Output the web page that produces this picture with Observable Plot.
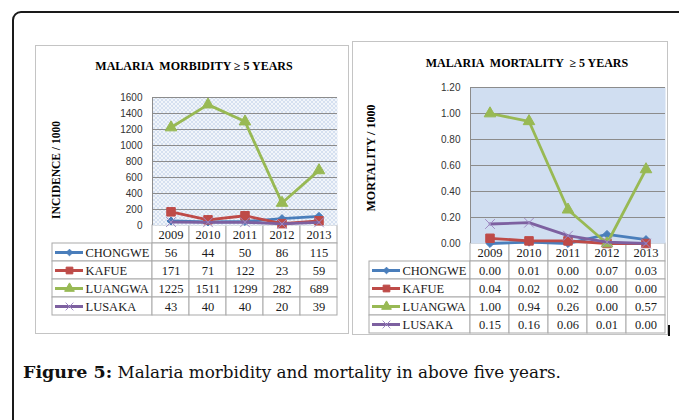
<!DOCTYPE html>
<html><head><meta charset="utf-8">
<script src="https://cdn.jsdelivr.net/npm/d3@7"></script>
<script src="https://cdn.jsdelivr.net/npm/@observablehq/plot@0.6"></script>
<style>
html,body{margin:0;padding:0;background:#fff;width:679px;height:420px;overflow:hidden;position:relative;}
.abs{position:absolute;}
.frame{left:12px;top:11px;width:720px;height:460px;border:2px solid #1a1a1a;border-radius:9px;}
.box{box-sizing:border-box;border:1.5px solid #c4c4c4;background:#fff;}
.title{font-family:"Liberation Serif",serif;font-weight:bold;font-size:12px;white-space:pre;transform:translateX(-50%);color:#000;line-height:1;}
.ylab{font-family:"Liberation Serif",serif;font-weight:bold;font-size:11.5px;white-space:pre;transform:translate(-50%,-50%) rotate(-90deg);line-height:1;color:#000;}
.caption{font-family:"DejaVu Serif",serif;font-size:16.8px;left:23px;top:362px;white-space:pre;color:#111;line-height:1.2;}
.caption b{font-weight:bold;font-size:17.5px;}
svg{position:absolute;}
</style></head><body>
<div class="abs frame"></div>
<script>
// ---- data ----
const years = ["2009", "2010", "2011", "2012", "2013"];
const series = ["CHONGWE", "KAFUE", "LUANGWA", "LUSAKA"];
const seriesColors = ["#4a7ebb", "#be4b48", "#98b954", "#7d60a0"];
const seriesSymbols = ["diamond2", "square", "triangle", "times"];

const morbidityChongwe = [56, 44, 50, 86, 115];
const morbidityKafue = [171, 71, 122, 23, 59];
const morbidityLuangwa = [1225, 1511, 1299, 282, 689];
const morbidityLusaka = [43, 40, 40, 20, 39];

const mortalityChongwe = [0.00, 0.01, 0.00, 0.07, 0.03];
const mortalityKafue = [0.04, 0.02, 0.02, 0.00, 0.00];
const mortalityLuangwa = [1.00, 0.94, 0.26, 0.00, 0.57];
const mortalityLusaka = [0.15, 0.16, 0.06, 0.01, 0.00];

const morbidityTicks = [0, 200, 400, 600, 800, 1000, 1200, 1400, 1600];
const mortalityTicks = [0, 0.2, 0.4, 0.6, 0.8, 1.0, 1.2];

const morbidityTitle = "MALARIA  MORBIDITY ≥ 5 YEARS";
const mortalityTitle = "MALARIA  MORTALITY  ≥ 5 YEARS";
const morbidityLabel = "INCIDENCE / 1000";
const mortalityLabel = "MORTALITY / 1000";

// ---- styles ----
const markerR = [3.6, 4.8, 4.3, 4.5];
const swatchR = [3, 3.8, 3.6, 3.6];
const gridColor = "#8c8c8c";
const tableColor = "#a9a9a9";

function addPattern(svg, id, size, bg, dots, dotColor) {
  const defs = d3.select(svg).insert("defs", ":first-child");
  const p = defs.append("pattern").attr("id", id).attr("width", size).attr("height", size)
    .attr("patternUnits", "userSpaceOnUse");
  p.append("rect").attr("width", size).attr("height", size).attr("fill", bg);
  dots.forEach(([x, y]) => p.append("rect").attr("x", x).attr("y", y).attr("width", 1).attr("height", 1).attr("fill", dotColor));
}

function panel(cfg) {
  const [bx0, by0, bx1, by1] = cfg.box;
  const box = document.createElement("div");
  box.className = "abs box";
  Object.assign(box.style, {left: bx0 + "px", top: by0 + "px", width: (bx1 - bx0) + "px", height: (by1 - by0) + "px"});
  document.body.appendChild(box);

  const boxW = bx1 - bx0;
  const step = (cfg.plotRight - cfg.plotLeft) / years.length;
  const L = (cfg.plotLeft - cfg.tableLeft) / step;
  const colorScale = {domain: series, range: seriesColors};

  // ---- table ----
  const nRows = series.length + 1;
  const cells = [];
  cfg.values.forEach((vals, r) => vals.forEach((v, i) => cells.push({r, i, v})));
  const table = Plot.plot({
    width: boxW, height: nRows * cfg.rowH + 3,
    marginLeft: cfg.tableLeft - bx0, marginRight: bx1 - cfg.plotRight, marginTop: 1, marginBottom: 2,
    x: {type: "linear", domain: [-L, years.length], axis: null},
    y: {type: "linear", domain: [0, nRows], range: [1, 1 + nRows * cfg.rowH], axis: null},
    color: colorScale,
    style: {background: "transparent", overflow: "visible", fontFamily: "Liberation Serif", fontSize: "12px", color: "#1a1a1a"},
    marks: [
      Plot.rect(years, {x1: (d, i) => i, x2: (d, i) => i + 1, y1: 0, y2: 1, stroke: tableColor, fill: "white"}),
      Plot.rect(series, {x1: -L, x2: 0, y1: (d, r) => r + 1, y2: (d, r) => r + 2, stroke: tableColor, fill: "white"}),
      Plot.rect(cells, {x1: d => d.i, x2: d => d.i + 1, y1: d => d.r + 1, y2: d => d.r + 2, stroke: tableColor, fill: "white"}),
      Plot.text(years, {x: (d, i) => i + 0.5, y: 0.5, text: d => d, fontSize: 12.5, fill: "#1a1a1a"}),
      Plot.text(cells, {x: d => d.i + 0.5, y: d => d.r + 1.5, text: d => cfg.fmt(d.v), fontSize: 12.5, fill: "#1a1a1a"}),
      Plot.ruleY(series, {y: (d, r) => r + 1.5, x1: -L + 3 / step, x2: -L + 31 / step, stroke: d => d, strokeWidth: 3}),
      Plot.dot(series, {x: -L + 17 / step, y: (d, r) => r + 1.5, symbol: d => d, r: (d, r) => swatchR[r],
        fill: (d, r) => r === 3 ? "none" : seriesColors[r], stroke: (d, r) => r === 3 ? "#a08bc4" : seriesColors[r], strokeWidth: 1}),
      Plot.text(series, {x: -L + 33 / step, y: (d, r) => r + 1.5, text: d => d, textAnchor: "start", fontSize: 12.5, fill: "#1a1a1a"})
    ],
    symbol: {domain: series, range: seriesSymbols},
    r: {type: "identity"}
  });
  table.style.position = "absolute";
  table.style.left = bx0 + "px";
  table.style.top = (cfg.plotBottom - 1) + "px";
  document.body.appendChild(table);

  // ---- chart ----
  const ticks = cfg.ticks;
  const svgTop = cfg.plotTop - 12, svgBottom = cfg.plotBottom + 10;
  const seriesMarks = cfg.values.flatMap((vals, k) => {
    const rows = vals.map((v, i) => ({x: i + 0.5, v}));
    return [
      Plot.line(rows, {x: "x", y: "v", stroke: seriesColors[k], strokeWidth: 2.8, strokeLinejoin: "round", strokeLinecap: "round"}),
      Plot.dot(rows, {x: "x", y: "v", symbol: seriesSymbols[k], r: markerR[k],
        fill: k === 3 ? "none" : seriesColors[k], stroke: k === 3 ? "#a08bc4" : seriesColors[k], strokeWidth: 1})
    ];
  });
  const chart = Plot.plot({
    width: boxW, height: svgBottom - svgTop,
    marginLeft: cfg.plotLeft - bx0, marginRight: bx1 - cfg.plotRight,
    marginTop: cfg.plotTop - svgTop, marginBottom: svgBottom - cfg.plotBottom,
    x: {type: "linear", domain: [0, years.length], axis: null},
    y: {domain: [ticks[0], ticks[ticks.length - 1]], axis: null},
    style: {background: "transparent", overflow: "visible", fontFamily: "Liberation Sans", fontSize: "10px", color: "#333"},
    marks: [
      Plot.frame({fill: `url(#${cfg.patternId})`, stroke: "none"}),
      Plot.ruleY(ticks.slice(1), {stroke: gridColor, strokeWidth: 1}),
      Plot.ruleX([0], {stroke: gridColor, strokeWidth: 1}),
      Plot.axisY(ticks, {tickSize: 0, tickPadding: 10, tickFormat: cfg.fmt, label: null, fontSize: 10}),
      ...seriesMarks
    ]
  });
  addPattern(chart, cfg.patternId, cfg.pattern.size, cfg.pattern.bg, cfg.pattern.dots, cfg.pattern.dot);
  chart.style.position = "absolute";
  chart.style.left = bx0 + "px";
  chart.style.top = svgTop + "px";
  document.body.appendChild(chart);

  // ---- title and axis label ----
  const t = document.createElement("div");
  t.className = "abs title";
  t.textContent = cfg.title;
  Object.assign(t.style, {left: cfg.titleX + "px", top: cfg.titleTop + "px"});
  document.body.appendChild(t);
  const yl = document.createElement("div");
  yl.className = "abs ylab";
  yl.textContent = cfg.ylabel;
  Object.assign(yl.style, {left: cfg.ylabX + "px", top: cfg.ylabY + "px", fontSize: cfg.ylabSize + "px"});
  document.body.appendChild(yl);
}

panel({
  box: [35, 45, 349, 334],
  plotLeft: 152, plotRight: 337, plotTop: 97, plotBottom: 225,
  tableLeft: 52, rowH: 18,
  values: [morbidityChongwe, morbidityKafue, morbidityLuangwa, morbidityLusaka],
  ticks: morbidityTicks, fmt: d3.format("d"),
  patternId: "patMorb",
  pattern: {size: 4, bg: "#f1f5fa", dots: [[0, 0], [2, 2]], dot: "#7f9fd0"},
  title: morbidityTitle, titleX: 194, titleTop: 60,
  ylabel: morbidityLabel, ylabX: 57, ylabY: 170, ylabSize: 11.5
});

panel({
  box: [352, 41, 668, 335],
  plotLeft: 470, plotRight: 665, plotTop: 87, plotBottom: 243,
  tableLeft: 369, rowH: 18,
  values: [mortalityChongwe, mortalityKafue, mortalityLuangwa, mortalityLusaka],
  ticks: mortalityTicks, fmt: d3.format(".2f"),
  patternId: "patMort",
  pattern: {size: 2, bg: "#e2eaf6", dots: [[0, 0]], dot: "#9ab8e0"},
  title: mortalityTitle, titleX: 527, titleTop: 57,
  ylabel: mortalityLabel, ylabX: 371, ylabY: 158, ylabSize: 12
});

// small black mark at the lower right of the right panel
const mark = document.createElement("div");
mark.className = "abs";
Object.assign(mark.style, {left: "668px", top: "325px", width: "2px", height: "11px", background: "#111"});
document.body.appendChild(mark);

const cap = document.createElement("div");
cap.className = "abs caption";
cap.innerHTML = "<b>Figure 5:</b> Malaria morbidity and mortality in above five years.";
document.body.appendChild(cap);
</script>
</body></html>
